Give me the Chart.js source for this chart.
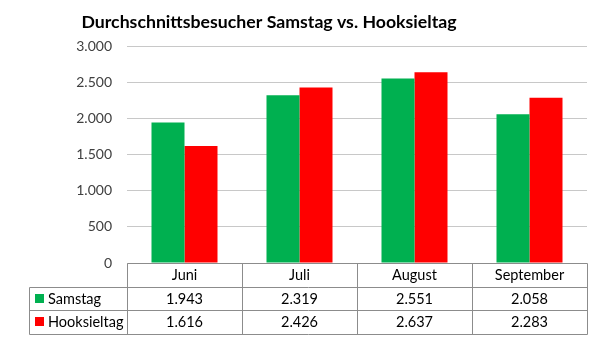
<!DOCTYPE html>
<html><head><meta charset="utf-8">
<script src="https://cdn.jsdelivr.net/npm/chart.js@4.4.1/dist/chart.umd.min.js"></script>
<style>html,body{margin:0;padding:0;background:#fff}#wrap{width:604px;height:353px;position:relative}</style>
</head><body><div id="wrap"><canvas id="c" width="604" height="353"></canvas></div>
<script>
const titleText = 'Durchschnittsbesucher Samstag vs. Hooksieltag';
const categories = ['Juni', 'Juli', 'August', 'September'];
const seriesNames = ['Samstag', 'Hooksieltag'];
const samstag = [1943, 2319, 2551, 2058];
const hooksieltag = [1616, 2426, 2637, 2283];
const colors = ['#00b050', '#ff0000'];
const yMax = 3000, yStep = 500;

const FONT = 'Lato, "Open Sans", sans-serif';
function de(n){ return String(n).replace(/\B(?=(\d{3})+(?!\d))/g, '.'); }

const tablePlugin = {
  id: 'tablePlugin',
  afterDraw(chart){
    const ctx = chart.ctx, ca = chart.chartArea, xs = chart.scales.x;
    const top = ca.bottom, rowH = 23.5;
    const r1 = top + rowH, r2 = r1 + rowH, r3 = r2 + rowH;
    const legL = 29;
    ctx.save();
    // title
    ctx.fillStyle = '#000';
    ctx.font = 'bold 17.7px ' + FONT;
    ctx.textAlign = 'center';
    ctx.textBaseline = 'alphabetic';
    ctx.fillText(titleText, 269, 28);
    // table lines
    ctx.strokeStyle = '#8c8c8c';
    ctx.lineWidth = 1;
    ctx.beginPath();
    const R = Math.round(ca.right)+0.5;
    ctx.moveTo(Math.round(ca.left)+0.5, Math.round(top)+0.5); ctx.lineTo(R, Math.round(top)+0.5);
    [r1, r2, r3].forEach(y => { ctx.moveTo(legL+0.5, Math.round(y)+0.5); ctx.lineTo(R, Math.round(y)+0.5); });
    ctx.moveTo(legL+0.5, Math.round(r1)+0.5); ctx.lineTo(legL+0.5, Math.round(r3)+0.5);
    const w = (ca.right - ca.left) / categories.length;
    for (let i = 0; i <= categories.length; i++){
      const x = Math.round(ca.left + i*w)+0.5;
      ctx.moveTo(x, Math.round(top)+0.5); ctx.lineTo(x, Math.round(r3)+0.5);
    }
    ctx.stroke();
    // text
    ctx.font = '14.5px ' + FONT;
    ctx.fillStyle = '#000';
    ctx.textBaseline = 'middle';
    ctx.textAlign = 'center';
    categories.forEach((c, i) => {
      const x = xs.getPixelForValue(i);
      ctx.fillText(c, x, top + rowH/2 + 1);
      ctx.fillText(de(samstag[i]), x, r1 + rowH/2 + 1);
      ctx.fillText(de(hooksieltag[i]), x, r2 + rowH/2 + 1);
    });
    ctx.textAlign = 'left';
    seriesNames.forEach((n, k) => {
      const yc = (k === 0 ? r1 : r2) + rowH/2;
      ctx.fillStyle = colors[k];
      ctx.fillRect(35, Math.round(yc - 4.5), 9, 9);
      ctx.fillStyle = '#000';
      ctx.fillText(n, 48, yc + 1);
    });
    ctx.restore();
  }
};

new Chart(document.getElementById('c'), {
  type: 'bar',
  data: {
    labels: categories,
    datasets: [
      { label: seriesNames[0], data: samstag, backgroundColor: colors[0], borderWidth: 0 },
      { label: seriesNames[1], data: hooksieltag, backgroundColor: colors[1], borderWidth: 0 }
    ]
  },
  options: {
    responsive: false,
    animation: false,
    devicePixelRatio: 1,
    layout: { padding: { left: 0, right: 17, top: 46, bottom: 90 } },
    plugins: { legend: { display: false }, title: { display: false }, tooltip: { enabled: false } },
    datasets: { bar: { categoryPercentage: 0.574, barPercentage: 1 } },
    scales: {
      x: { display: false },
      y: {
        min: 0, max: yMax,
        afterFit(s){ s.width = 127; },
        ticks: { stepSize: yStep, padding: 15, color: '#404040', font: { family: FONT, size: 14 }, callback: v => de(v) },
        grid: { color: '#c8c8c8', drawTicks: false, lineWidth: 1 },
        border: { display: false }
      }
    }
  },
  plugins: [tablePlugin]
});
</script></body></html>
